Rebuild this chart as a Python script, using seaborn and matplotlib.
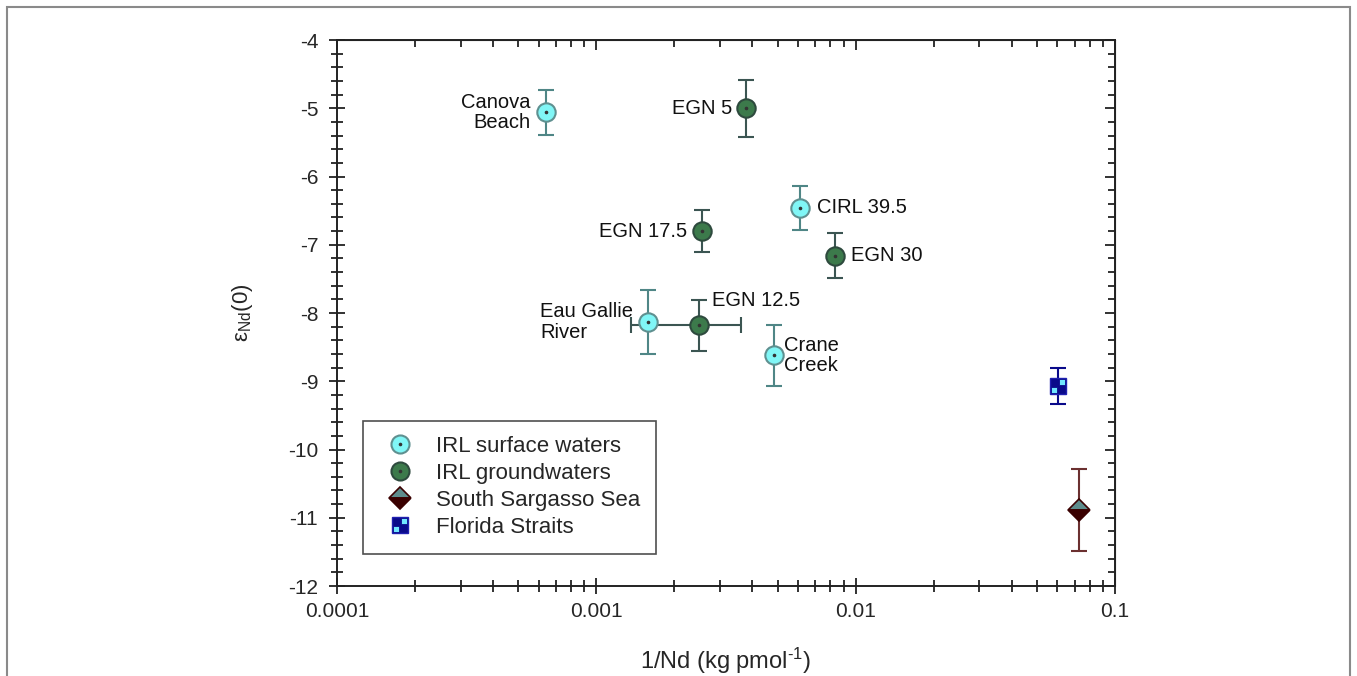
import numpy as np
import pandas as pd
import matplotlib
matplotlib.use("Agg")
import matplotlib.pyplot as plt
import seaborn as sns
from matplotlib.lines import Line2D
from matplotlib.path import Path
from matplotlib.patches import Rectangle

# --- data ---
surface_names = ["Canova\nBeach", "CIRL 39.5", "Eau Gallie\nRiver", "Crane\nCreek"]
surface_x = [6.4e-4, 6.1e-3, 1.59e-3, 4.86e-3]
surface_y = [-5.06, -6.46, -8.13, -8.62]
surface_yerr = [0.33, 0.32, 0.47, 0.45]

ground_names = ["EGN 5", "EGN 17.5", "EGN 30", "EGN 12.5"]
ground_x = [3.79e-3, 2.56e-3, 8.3e-3, 2.48e-3]
ground_y = [-5.00, -6.80, -7.16, -8.18]
ground_yerr = [0.42, 0.31, 0.33, 0.37]
ground_xerr = [0.0, 0.0, 0.0, 1.12e-3]

sargasso_x = [0.0726]
sargasso_y = [-10.89]
sargasso_yerr = [0.60]

florida_x = [0.0603]
florida_y = [-9.07]
florida_yerr = [0.26]

# label placement (offset points, alignment)
label_style = {
    "Canova\nBeach": (-11, 0, "right"),
    "CIRL 39.5": (12, 0, "left"),
    "Eau Gallie\nRiver": (-78, 0, "left"),
    "Crane\nCreek": (7, 0, "left"),
    "EGN 5": (-10, 0, "right"),
    "EGN 17.5": (-11, 0, "right"),
    "EGN 30": (12, 0, "left"),
    "EGN 12.5": (10, 18, "left"),
}

sns.set_style("ticks")
plt.rcParams["font.family"] = ["Liberation Sans", "DejaVu Sans"]
plt.rcParams["axes.unicode_minus"] = False
plt.rcParams["mathtext.fontset"] = "custom"
plt.rcParams["mathtext.rm"] = "Liberation Sans"
plt.rcParams["mathtext.it"] = "Liberation Sans:italic"

fig = plt.figure(figsize=(13.57, 6.76), dpi=100)
ax = fig.add_axes([0.2483, 0.1331, 0.5733, 0.8077])

C_CYAN, C_CYAN_EDGE, C_CYAN_ERR = "#80f6f6", "#5f9090", "#4f8686"
C_GREEN, C_GREEN_EDGE, C_GREEN_ERR = "#3c7a4b", "#2e4a3e", "#3b5552"
C_SAR_TOP, C_SAR_BOT, C_SAR_ERR = "#5e8c8c", "#3a0000", "#6b3030"
C_NAVY, C_FL_CYAN = "#0a0a8a", "#70e6ff"

# cyan checker squares inside the Florida Straits marker
checker = Path(
    [(0.08, 0.08), (0.8, 0.08), (0.8, 0.8), (0.08, 0.8), (0.08, 0.08),
     (-0.8, -0.8), (-0.08, -0.8), (-0.08, -0.08), (-0.8, -0.08), (-0.8, -0.8)],
    [Path.MOVETO, Path.LINETO, Path.LINETO, Path.LINETO, Path.CLOSEPOLY] * 2,
)

ERR_KW = dict(fmt="none", elinewidth=1.5, capsize=6, capthick=1.5, zorder=2)

# error bars
ax.errorbar(surface_x, surface_y, yerr=surface_yerr, ecolor=C_CYAN_ERR, **ERR_KW)
ax.errorbar(ground_x, ground_y, yerr=ground_yerr, xerr=ground_xerr,
            ecolor=C_GREEN_ERR, **ERR_KW)
ax.errorbar(sargasso_x, sargasso_y, yerr=sargasso_yerr, ecolor=C_SAR_ERR, **ERR_KW)
ax.errorbar(florida_x, florida_y, yerr=florida_yerr, ecolor=C_NAVY, **ERR_KW)

# markers
df_s = pd.DataFrame({"x": surface_x, "y": surface_y})
df_g = pd.DataFrame({"x": ground_x, "y": ground_y})
sns.scatterplot(data=df_s, x="x", y="y", ax=ax, marker="o", s=175, color=C_CYAN,
                edgecolor=C_CYAN_EDGE, linewidth=1.5, zorder=3, legend=False)
sns.scatterplot(data=df_g, x="x", y="y", ax=ax, marker="o", s=175, color=C_GREEN,
                edgecolor=C_GREEN_EDGE, linewidth=1.5, zorder=3, legend=False)
ax.plot(surface_x + ground_x, surface_y + ground_y, ls="none", marker="o", ms=1.6,
        color="#333333", zorder=4)
ax.plot(sargasso_x, sargasso_y, ls="none", marker="D", ms=11, fillstyle="top",
        markerfacecolor=C_SAR_TOP, markerfacecoloralt=C_SAR_BOT,
        markeredgecolor=C_SAR_BOT, markeredgewidth=1.2, zorder=3)
ax.plot(florida_x, florida_y, ls="none", marker="s", ms=12, color=C_NAVY,
        markeredgecolor="#2020b0", zorder=3)
ax.plot(florida_x, florida_y, ls="none", marker=checker, ms=10, color=C_FL_CYAN,
        markeredgecolor=C_NAVY, markeredgewidth=0.6, zorder=4)

# point labels
for names, xs, ys in [(surface_names, surface_x, surface_y), (ground_names, ground_x, ground_y)]:
    for n, x, y in zip(names, xs, ys):
        dx, dy, ha = label_style[n]
        ax.annotate(n, (x, y), xytext=(dx, dy), textcoords="offset points",
                    ha=ha, va="center", fontsize=14.5, color="#111111", linespacing=1.1)

# axes
ax.set_xscale("log")
ax.set_xlim(1e-4, 0.1)
ax.set_ylim(-12, -4)
ax.set_yticks(np.arange(-12, -3, 1))
ax.set_yticks(np.arange(-12, -3.9, 0.2), minor=True)
ax.set_xticks([1e-4, 1e-3, 1e-2, 1e-1])
ax.set_xticklabels(["0.0001", "0.001", "0.01", "0.1"])
ax.tick_params(which="both", direction="inout", color="#222222", width=1.3,
               labelsize=15, top=False, right=False)
ax.tick_params(which="major", length=11)
ax.tick_params(which="minor", length=8)
ax.tick_params(axis="y", which="major", pad=8)
ax.tick_params(axis="x", which="major", pad=6)
for sp in ax.spines.values():
    sp.set_linewidth(1.4)
    sp.set_color("#222222")

# inward ticks on top and right
ax_top = ax.secondary_xaxis("top")
ax_top.set_xticks([1e-4, 1e-3, 1e-2, 1e-1])
ax_top.tick_params(which="both", direction="in", labeltop=False, color="#222222", width=1.3)
ax_top.tick_params(which="major", length=7)
ax_top.tick_params(which="minor", length=5)
ax_right = ax.secondary_yaxis("right")
ax_right.set_yticks(np.arange(-12, -3, 1))
ax_right.set_yticks(np.arange(-12, -3.9, 0.2), minor=True)
ax_right.tick_params(which="both", direction="in", labelright=False, color="#222222", width=1.3)
ax_right.tick_params(which="major", length=7)
ax_right.tick_params(which="minor", length=5)

ax.set_xlabel(r"1/Nd (kg pmol$^{\mathregular{\text{-}1}}$)", fontsize=17, labelpad=18)
ax.set_ylabel(r"ε$_{\mathregular{Nd}}$(0)", fontsize=16, labelpad=24)

# legend
handles = [
    (Line2D([], [], ls="none", marker="o", ms=13, markerfacecolor=C_CYAN,
            markeredgecolor=C_CYAN_EDGE, markeredgewidth=1.5),
     Line2D([], [], ls="none", marker="o", ms=1.6, color="#333333")),
    (Line2D([], [], ls="none", marker="o", ms=13, markerfacecolor=C_GREEN,
            markeredgecolor=C_GREEN_EDGE, markeredgewidth=1.5),
     Line2D([], [], ls="none", marker="o", ms=1.6, color="#333333")),
    Line2D([], [], ls="none", marker="D", ms=11, fillstyle="top",
           markerfacecolor=C_SAR_TOP, markerfacecoloralt=C_SAR_BOT,
           markeredgecolor=C_SAR_BOT, markeredgewidth=1.2),
    (Line2D([], [], ls="none", marker="s", ms=12, color=C_NAVY, markeredgecolor="#2020b0"),
     Line2D([], [], ls="none", marker=checker, ms=10, color=C_FL_CYAN,
            markeredgecolor=C_NAVY, markeredgewidth=0.6)),
]
labels = ["IRL surface waters", "IRL groundwaters", "South Sargasso Sea", "Florida Straits"]
leg = ax.legend(handles, labels, loc="lower left", bbox_to_anchor=(0.033, 0.059),
                borderaxespad=0, fontsize=16, frameon=True, fancybox=False,
                edgecolor="#222222", handlelength=2.0, handletextpad=0.6,
                labelspacing=0.27, borderpad=0.7)
leg.get_frame().set_linewidth(1.2)

# outer frame around the figure (bottom edge is cut off in the original)
fig.patches.append(Rectangle((7 / 1357, -0.1), 1343 / 1357, 1.1 - 7 / 676,
                             transform=fig.transFigure, fill=False,
                             edgecolor="#8a8a8a", linewidth=1.5))

fig.savefig("out.png", dpi=100)
